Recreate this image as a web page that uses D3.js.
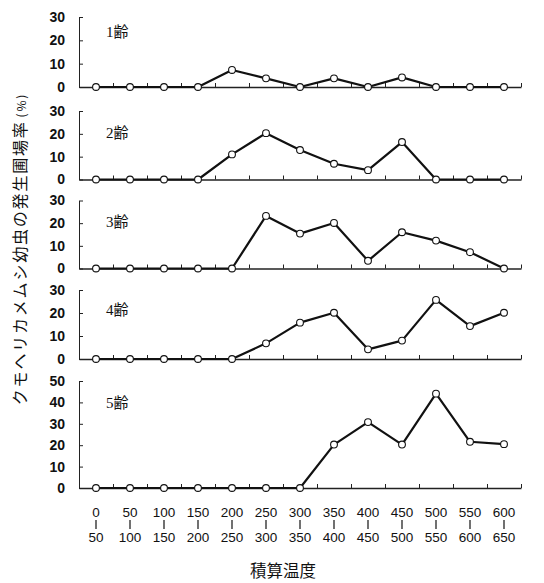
<!DOCTYPE html>
<html><head><meta charset="utf-8">
<script src="https://cdn.jsdelivr.net/npm/d3@7"></script>
<style>
html,body{margin:0;padding:0;background:#fff;}
svg{display:block;}
</style></head>
<body>
<svg id="chart" width="544" height="583"></svg>
<script>
// ---- data ----
const binLow  = ["0","50","100","150","200","250","300","350","400","450","500","550","600"];
const binHigh = ["50","100","150","200","250","300","350","400","450","500","550","600","650"];
const instars = ["1齢","2齢","3齢","4齢","5齢"];
const yMax = [30,30,30,30,50];
const instar1 = [0,0,0,0,7.3,3.7,0,3.7,0,4.1,0,0,0];
const instar2 = [0,0,0,0,11.0,20.3,12.9,6.9,4.1,16.4,0,0,0];
const instar3 = [0,0,0,0,0,23.2,15.4,20.1,3.4,16.0,12.3,7.2,0];
const instar4 = [0,0,0,0,0,6.8,15.8,20.1,4.2,8.0,25.7,14.3,20.1];
const instar5 = [0,0,0,0,0,0,0,20.3,30.8,20.3,44.1,21.6,20.5];
const series = [instar1,instar2,instar3,instar4,instar5];
const yTitle = "クモヘリカメムシ幼虫の発生圃場率";
const yUnit = "(%)";
const xTitle = "積算温度";

// ---- layout ----
const panelTop = [17,111,200.5,290,381];
const panelBot = [87,179.5,268.5,359,488];
const labelDy = [15,22,21,20,22];
const x0 = 79, x1 = 521;
const svg = d3.select("#chart");
const xs = d3.scaleLinear().domain([0, binLow.length]).range([x0, x1]);
const numFont = "'Liberation Sans Narrow','Liberation Sans',Arial,sans-serif";

series.forEach((vals, p) => {
  const ys = d3.scaleLinear().domain([0, yMax[p]]).range([panelBot[p], panelTop[p]]);
  const g = svg.append("g");
  // y axis
  const ya = g.append("g").attr("transform", `translate(${x0},0)`)
    .call(d3.axisLeft(ys).tickValues(d3.range(0, yMax[p] + 1, 10)).tickSizeInner(-4).tickSizeOuter(0).tickPadding(14).tickFormat(d3.format("d")));
  ya.select(".domain").attr("stroke", "#222");
  ya.selectAll(".tick line").attr("stroke", "#222");
  ya.selectAll(".tick text").attr("font-family", numFont).attr("font-weight", "bold")
    .attr("font-size", 14).attr("fill", "#111");
  // x axis
  const xa = g.append("g").attr("transform", `translate(0,${panelBot[p]})`)
    .call(d3.axisBottom(xs).tickValues(d3.range(1, binLow.length + 1)).tickSizeInner(-4).tickSizeOuter(0).tickFormat(""));
  xa.select(".domain").attr("stroke", "#222").attr("stroke-width", 1.3);
  xa.selectAll(".tick line").attr("stroke", "#222");
  // line
  const line = d3.line().x((d, i) => xs(i + 0.5)).y(d => ys(d));
  g.append("path").datum(vals).attr("d", line).attr("fill", "none")
    .attr("stroke", "#111").attr("stroke-width", 2.2).attr("stroke-linejoin", "round");
  g.selectAll("circle").data(vals).join("circle")
    .attr("cx", (d, i) => xs(i + 0.5)).attr("cy", d => ys(d)).attr("r", 3.4)
    .attr("fill", "#fff").attr("stroke", "#111").attr("stroke-width", 1.1);
  // panel label
  g.append("text").attr("x", 106).attr("y", panelTop[p] + labelDy[p]).attr("dy", "0.35em")
    .attr("font-family", "'Liberation Serif','Noto Sans CJK JP',serif").attr("font-size", 15)
    .attr("fill", "#111").text(instars[p]);
});

// x category labels
const xl = svg.append("g").attr("font-family", "'Liberation Sans','Noto Sans',sans-serif")
  .attr("font-size", 13.5).attr("fill", "#111").attr("text-anchor", "middle");
binLow.forEach((lo, i) => {
  const cx = xs(i + 0.5);
  xl.append("text").attr("x", cx).attr("y", 512).attr("dy", "0.35em").text(lo);
  xl.append("line").attr("x1", cx).attr("x2", cx).attr("y1", 520).attr("y2", 529)
    .attr("stroke", "#111").attr("stroke-width", 1.2);
  xl.append("text").attr("x", cx).attr("y", 537).attr("dy", "0.35em").text(binHigh[i]);
});

// titles
svg.append("text").attr("x", 283).attr("y", 571).attr("dy", "0.35em").attr("text-anchor", "middle")
  .attr("font-family", "'Noto Sans CJK JP',sans-serif").attr("font-size", 16.5).attr("fill", "#111").text(xTitle);
const yt = svg.append("text").attr("transform", "translate(20,249) rotate(-90)").attr("text-anchor", "middle")
  .attr("dy", "0.35em").attr("font-family", "'Noto Sans CJK JP',sans-serif").attr("font-size", 16)
  .attr("letter-spacing", 1.8).attr("fill", "#111");
yt.append("tspan").text(yTitle);
yt.append("tspan").attr("font-size", 12).attr("dx", 3).text(yUnit);
</script>
</body></html>
